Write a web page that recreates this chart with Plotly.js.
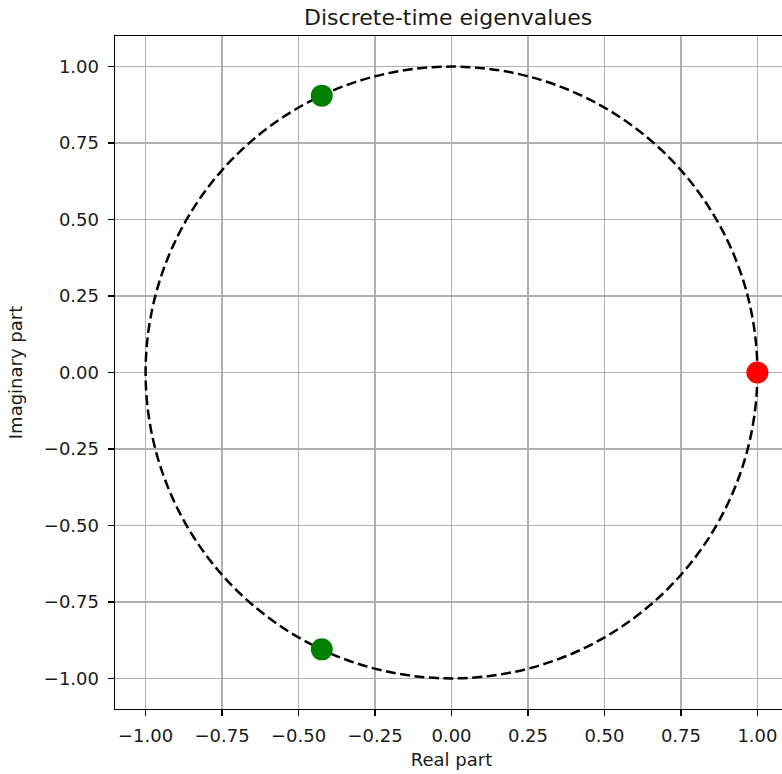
<!DOCTYPE html>
<html>
<head>
<meta charset="utf-8">
<script src="https://cdn.plot.ly/plotly-3.0.1.min.js"></script>
<style>html,body{margin:0;padding:0;overflow:hidden;background:#fff;}</style>
</head>
<body>
<div id="chart"></div>
<script>
// Eigenvalues
const stableRe = [-0.424, -0.424];
const stableIm = [0.905, -0.905];
const unitRe = [1.0];
const unitIm = [0.0];
// Unit circle bounds (data coordinates)
const circleBounds = [-1, 1];
// Ticks
const tickVals = [-1, -0.75, -0.5, -0.25, 0, 0.25, 0.5, 0.75, 1];
const tickText = ['\u22121.00', '\u22120.75', '\u22120.50', '\u22120.25', '0.00', '0.25', '0.50', '0.75', '1.00'];
const axisRange = [-1.1, 1.1];

const font = 'DejaVu Sans, sans-serif';
const txt = '#1a1a1a';

const traces = [
  {x: stableRe, y: stableIm, mode: 'markers', type: 'scatter',
   marker: {color: '#008000', size: 22}, hoverinfo: 'x+y'},
  {x: unitRe, y: unitIm, mode: 'markers', type: 'scatter',
   marker: {color: '#ff0000', size: 22}, hoverinfo: 'x+y'}
];

const axisCommon = {
  range: axisRange, tickmode: 'array', tickvals: tickVals, ticktext: tickText,
  showgrid: true, gridcolor: '#b0b0b0', gridwidth: 1.4,
  zeroline: false, showline: true, linecolor: '#000', linewidth: 1.4,
  ticks: 'outside', ticklen: 6, tickwidth: 1.4, tickcolor: '#000',
  tickfont: {family: font, size: 18, color: txt}, automargin: false
};

const layout = {
  width: 788, height: 774,
  margin: {l: 115, r: 0, t: 36, b: 65, pad: 0},
  paper_bgcolor: '#fff', plot_bgcolor: '#fff',
  showlegend: false,
  title: {text: 'Discrete-time eigenvalues', font: {family: font, size: 22, color: txt},
          x: 0.495, xref: 'paper', xanchor: 'center', y: 1 - 17/774, yref: 'container', yanchor: 'middle'},
  xaxis: Object.assign({}, axisCommon, {mirror: true, ticklabelstandoff: 4,
    title: {text: 'Real part', font: {family: font, size: 18, color: txt}, standoff: 8}}),
  yaxis: Object.assign({}, axisCommon, {mirror: false, ticklabelstandoff: 5,
    title: {text: 'Imaginary part', font: {family: font, size: 18, color: txt}, standoff: 16}}),
  shapes: [{type: 'circle', xref: 'x', yref: 'y', layer: 'between',
            x0: circleBounds[0], y0: circleBounds[0], x1: circleBounds[1], y1: circleBounds[1],
            line: {color: '#000', width: 2.5, dash: '10px,4.5px'}}]
};

Plotly.newPlot('chart', traces, layout, {displayModeBar: false, staticPlot: true});
</script>
</body>
</html>
